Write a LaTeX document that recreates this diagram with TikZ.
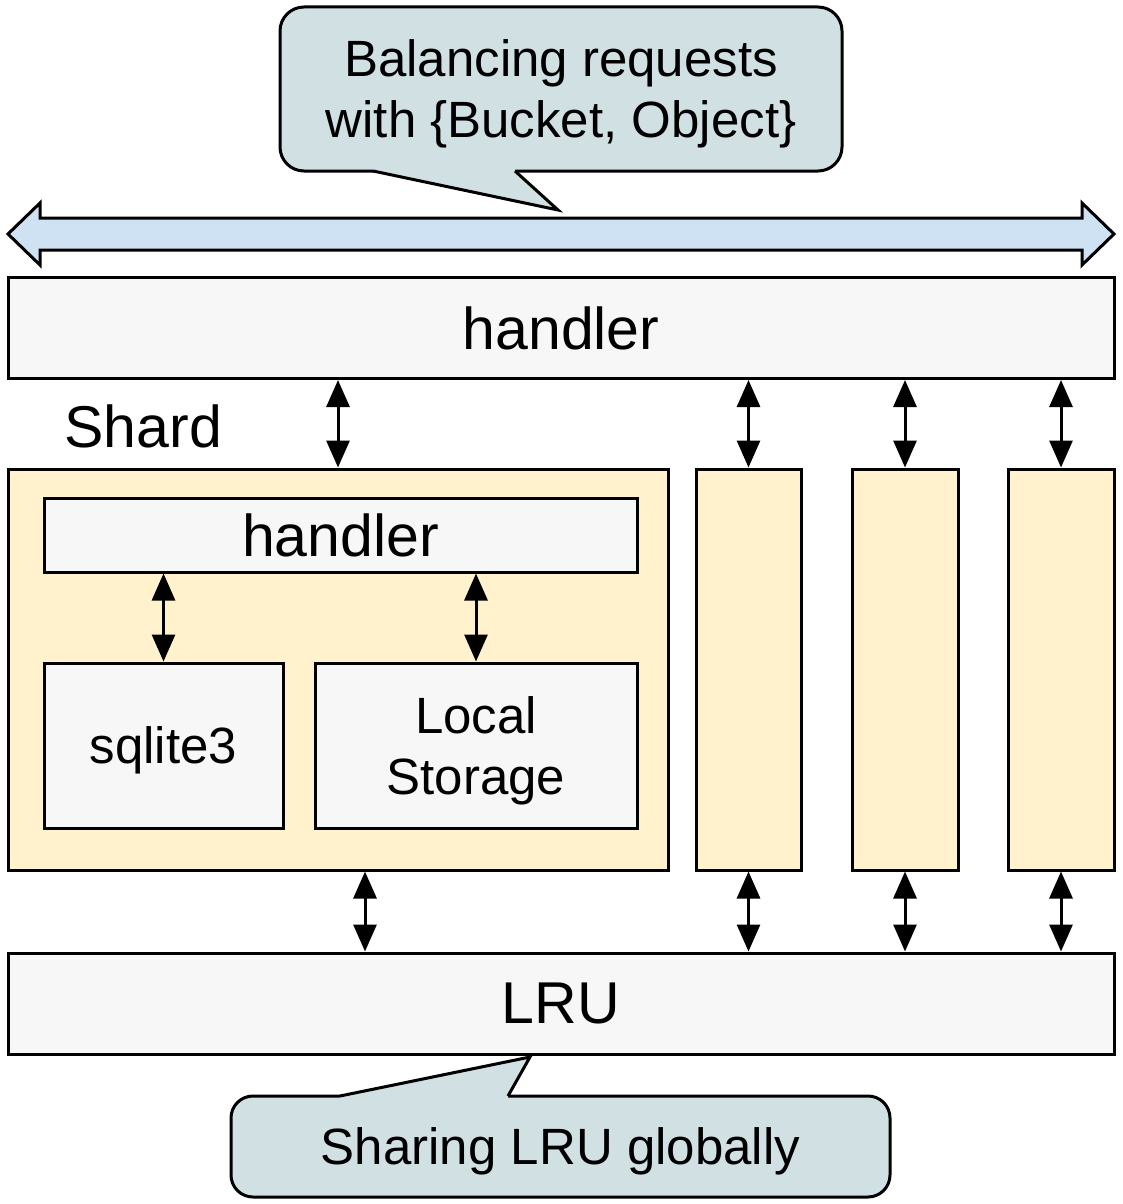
\documentclass[tikz,border=0pt]{standalone}
\usepackage{fontspec}
\setmainfont{Liberation Sans}
\usetikzlibrary{arrows.meta,calc,positioning}
\definecolor{CalloutTeal}{RGB}{208,224,227}
\definecolor{BandBlue}{RGB}{207,226,243}
\definecolor{BarGray}{RGB}{247,247,247}
\definecolor{ShardYellow}{RGB}{255,242,204}
\newcommand\bigtxt{\fontsize{59}{71}\selectfont}
\newcommand\midtxt{\fontsize{51}{61}\selectfont}

\begin{document}
\begin{tikzpicture}[x=1pt,y=-1pt,
    line width=3pt,
    >={Triangle[width=23pt,length=27pt]},
    bar/.style={draw, fill=BarGray, minimum height=101pt, minimum width=1106pt, font=\bigtxt},
    part/.style={draw, fill=ShardYellow, minimum width=106pt, minimum height=401pt},
    unit/.style={draw, fill=BarGray, minimum height=165pt, font=\midtxt, align=center, text depth=0pt},
    callout/.style={draw, fill=CalloutTeal, rounded corners=24pt, font=\midtxt, align=center, text depth=0pt},
    dbl/.style={<->}]
  \useasboundingbox (0,0) rectangle (1123,1204);

  % request balancing band
  \node[callout, minimum width=562pt, minimum height=164pt] (bal) at (561,89)
    {Balancing requests\\with \{Bucket, Object\}};
  \fill[CalloutTeal] (373,168) -- (373,171) -- (558,210) -- (515,171) -- (515,168) -- cycle;
  \draw[line join=miter] (373,171) -- (558,210) -- (515,171);
  \draw[fill=BandBlue] (8,234) -- (40,203) -- (40,218) -- (1082,218) -- (1082,203)
    -- (1114,234) -- (1082,265) -- (1082,250) -- (40,250) -- (40,265) -- cycle;

  \node[bar] (top) at (561,328) {handler};

  % shards
  \node[anchor=base west, inner sep=0pt, font=\bigtxt] (lbl) at (63,447) {Shard};
  \node[part, minimum width=660pt] (shard) at (338,669.5) {};
  \node[draw, fill=BarGray, minimum width=593pt, minimum height=74pt, font=\bigtxt] (ihandler) at (340.5,535) {handler};
  \node[unit, minimum width=239pt] (sqlite) at (163.5,745.5) {sqlite3};
  \node[unit, minimum width=322pt] (lstore) at (476,745.5) {Local\\Storage};
  \node[part, minimum width=105pt] (s2) at (748.5,669.5) {};
  \node[part] (s3) at (905,669.5) {};
  \node[part] (s4) at (1061,669.5) {};

  \node[bar] (lru) at (561,1003.5) {LRU};

  % sharing callout
  \node[callout, rounded corners=22pt, minimum width=659pt, minimum height=101pt] (share) at (560.5,1146.5)
    {Sharing LRU globally};
  \fill[CalloutTeal] (340,1099) -- (340,1096) -- (530,1057) -- (508,1096) -- (508,1099) -- cycle;
  \draw[line join=miter] (340,1096) -- (530,1057) -- (508,1096);

  % connectors
  \draw[dbl] (top.south -| shard.north) -- (shard.north);
  \draw[dbl] (ihandler.south -| sqlite.north) -- (sqlite.north);
  \draw[dbl] (ihandler.south -| lstore.north) -- (lstore.north);
  \coordinate (shout) at ($(shard.south)+(27,0)$);
  \draw[dbl] (shout) -- (shout |- lru.north);
  \foreach \s in {s2,s3,s4} {
    \draw[dbl] (top.south -| \s.north) -- (\s.north);
    \draw[dbl] (\s.south) -- (\s.south |- lru.north);
  }
\end{tikzpicture}
\end{document}
